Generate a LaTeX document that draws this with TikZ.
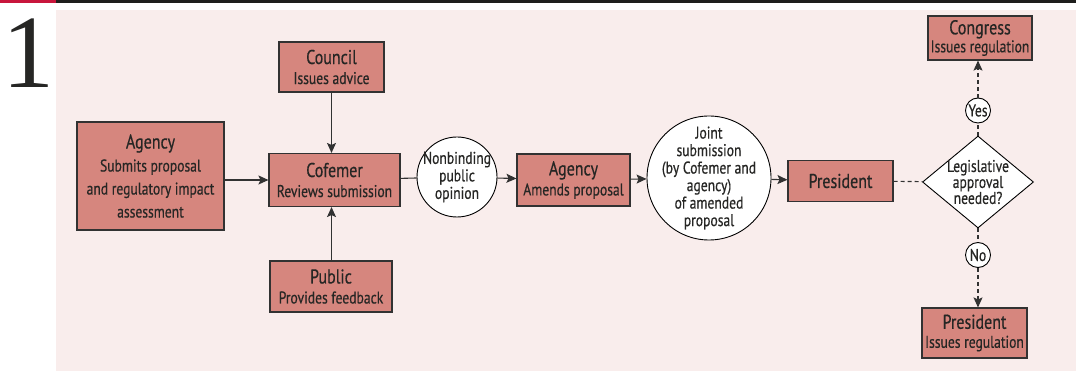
\documentclass[tikz,border=0pt]{standalone}
\usepackage{fontspec}
\setmainfont{PT Sans}[FakeStretch=0.8,FakeBold=0.5]
\newfontfamily\numfont{Liberation Serif}
\usetikzlibrary{arrows.meta,shapes.geometric}

\definecolor{boxred}{RGB}{214,134,126}
\definecolor{bgpink}{RGB}{249,237,236}
\definecolor{edgegray}{RGB}{50,50,50}
\definecolor{inkgray}{RGB}{38,38,36}
\definecolor{barred}{RGB}{200,22,60}
\definecolor{barblack}{RGB}{30,30,28}
\newcommand{\boxhead}[1]{{\fontsize{20}{22}\selectfont #1}}

\begin{document}
\begin{tikzpicture}[x=1pt,y=-1pt,>={Stealth[length=10pt,width=9pt,inset=2pt]},line width=1.1pt,
                    font=\fontsize{17}{23}\selectfont,text=inkgray]
  \tikzstyle{act}=[draw=edgegray,fill=boxred,align=center,inner sep=1pt]
  \tikzstyle{note}=[draw=black,fill=white,circle,align=center,inner sep=-10pt,line width=0.9pt,
                    font=\fontsize{17}{17.5}\selectfont]
  \tikzstyle{tag}=[note,inner sep=-3pt,minimum size=25]
  \tikzstyle{choice}=[draw=black,fill=white,diamond,aspect=1.2,align=center,inner sep=-9pt,
                      line width=0.9pt,minimum width=111,minimum height=92,font=\fontsize{17}{16}\selectfont]
  \tikzstyle{flow}=[->,draw=edgegray]
  \tikzstyle{maybe}=[draw=edgegray,dash pattern=on 4pt off 3pt]

  % frame
  \useasboundingbox (0,0) rectangle (1076,371);
  \fill[bgpink] (56,10) rectangle (1076,371);
  \fill[barred] (0,0) rectangle (56,3);
  \fill[barblack] (56,0) rectangle (1076,3);
  \node[font=\numfont\fontsize{104}{104}\selectfont,anchor=base] (num) at (28,88) {1};

  % boxes
  \node[act,minimum width=147,minimum height=108] (agency) at (150.5,176)
        {\boxhead{Agency}\\Submits proposal\\and regulatory impact\\assessment};
  \node[act,minimum width=131,minimum height=53] (cofemer) at (334.5,180)
        {\boxhead{Cofemer}\\[-3pt]Reviews submission};
  \node[act,minimum width=105,minimum height=50] (council) at (331.5,67)
        {\boxhead{Council}\\[-3pt]Issues advice};
  \node[act,minimum width=122,minimum height=51] (public) at (331,286.5)
        {\boxhead{Public}\\[-3pt]Provides feedback};
  \node[note,minimum size=80] (opinion) at (457,177) {Nonbinding\\public\\opinion};
  \node[act,minimum width=113,minimum height=52] (amend) at (573.5,180)
        {\boxhead{Agency}\\[-3pt]Amends proposal};
  \node[note,minimum size=124] (joint) at (709,178)
        {Joint\\submission\\(by Cofemer and\\agency)\\of amended\\proposal};
  \node[act,minimum width=105,minimum height=41] (pres) at (840.5,181) {\boxhead{President}};
  \node[choice] (decide) at (978,182) {Legislative\\approval\\needed?};
  \node[tag] (yes) at (978,110.5) {Yes};
  \node[tag] (no) at (978,255) {No};
  \node[act,minimum width=104,minimum height=44] (congress) at (980,38)
        {\boxhead{Congress}\\[-5pt]Issues regulation};
  \node[act,minimum width=105,minimum height=50] (presB) at (974.5,333)
        {\boxhead{President}\\[-4pt]Issues regulation};

  \path (agency.east |- cofemer) edge[flow] (cofemer.west)
        (council.south -| 331.5,0) edge[flow] (331.5,0 |- cofemer.north)
        (public.north -| 331.5,0) edge[flow] (331.5,0 |- cofemer.south)
        (cofemer) edge[draw=edgegray] (opinion)
        (opinion) edge[flow] (amend)
        (amend) edge[flow] (joint)
        (joint) edge[flow] (pres)
        (pres) edge[maybe] (decide)
        (decide) edge[maybe] (yes)
        (yes) edge[maybe,->] (yes |- congress.south)
        (decide) edge[maybe] (no)
        (no) edge[maybe,->] (no |- presB.north);
\end{tikzpicture}
\end{document}
